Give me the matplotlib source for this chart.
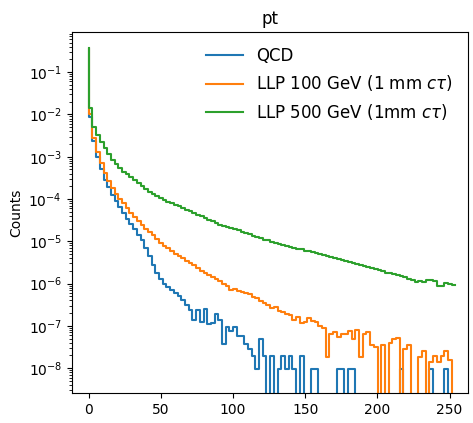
import numpy as np
import matplotlib
matplotlib.use('Agg')
import matplotlib.pyplot as plt

# bin layout
pt_lo = 0.0
pt_hi = 254.0
n_bins = 100

labels = ['QCD', r'LLP 100 GeV (1 mm $c\tau$)', r'LLP 500 GeV (1mm $c\tau$)']

# log10 of the bin contents, None = empty bin
qcd_log = [
    -0.45, -2.05, -2.62, -3.00, -3.28, -3.55, -3.72, -3.90, -4.05, -4.20,
    -4.33, -4.47, -4.60, -4.72, -4.85, -4.98, -5.15, -5.35, -5.55, -5.75,
    -5.90, -6.00, -6.08, -6.15, -6.22, -6.30, -6.38, -6.50, -6.62, -6.85,
    -6.62, -6.90, -6.60, -6.95, -6.92, -6.72, -6.85, -7.42, -7.02, -7.12,
    -7.02, -7.24, -7.24, -7.42, -7.54, -7.72, -8.02, -7.32, -7.72, None,
    -7.72, None, -8.02, -7.72, -8.02, -7.72, -8.02, None, -7.72, None,
    None, -8.02, -8.02, None, None, None, None, None, -8.02, -8.02,
    None, -8.02, -8.02, None, None, None, None, None, None, None,
    None, None, None, None, None, -8.02, None, None, None, None,
    None, None, None, -8.02, None, None, None, -8.02, None, None,
]
llp100_log = [
    -0.45, -2.00, -2.55, -2.90, -3.15, -3.38, -3.58, -3.75, -3.88, -4.00,
    -4.10, -4.22, -4.32, -4.43, -4.52, -4.62, -4.70, -4.78, -4.86, -4.95,
    -5.03, -5.10, -5.16, -5.22, -5.30, -5.35, -5.40, -5.46, -5.52, -5.57,
    -5.63, -5.70, -5.74, -5.80, -5.85, -5.90, -5.95, -6.01, -6.06, -6.15,
    -6.12, -6.18, -6.20, -6.22, -6.25, -6.32, -6.35, -6.40, -6.46, -6.50,
    -6.58, -6.55, -6.65, -6.67, -6.72, -6.74, -6.85, -6.78, -6.93, -6.90,
    -6.82, -6.88, -6.90, -7.00, -7.05, -7.74, -7.20, -7.15, -7.26, -7.18,
    -7.20, -7.12, -7.30, -7.10, -7.74, -7.20, -7.15, -7.45, -7.50, None,
    -7.45, None, -7.40, -7.30, -7.28, None, -7.55, -7.45, None, None,
    -7.74, -7.60, None, -7.85, -7.70, -7.85, -7.72, -7.60, -7.80, None,
]
llp500_log = [
    -0.43, -1.85, -2.30, -2.49, -2.66, -2.80, -2.93, -3.07, -3.18, -3.27,
    -3.35, -3.42, -3.49, -3.56, -3.63, -3.70, -3.77, -3.83, -3.88, -3.93,
    -3.98, -4.02, -4.06, -4.10, -4.14, -4.17, -4.21, -4.25, -4.29, -4.32,
    -4.37, -4.40, -4.45, -4.49, -4.53, -4.56, -4.61, -4.63, -4.67, -4.69,
    -4.72, -4.74, -4.77, -4.80, -4.83, -4.87, -4.89, -4.92, -4.96, -4.98,
    -5.02, -5.04, -5.07, -5.09, -5.11, -5.13, -5.15, -5.17, -5.19, -5.22,
    -5.24, -5.25, -5.28, -5.30, -5.32, -5.35, -5.37, -5.40, -5.42, -5.44,
    -5.47, -5.50, -5.52, -5.53, -5.56, -5.59, -5.60, -5.63, -5.66, -5.68,
    -5.70, -5.74, -5.76, -5.77, -5.80, -5.83, -5.85, -5.89, -5.91, -5.97,
    -5.95, -5.96, -5.91, -5.91, -5.93, -6.05, -6.05, -5.98, -6.01, -6.03,
]

colors = ['#1f77b4', '#ff7f0e', '#2ca02c']


def to_counts(logs):
    return np.array([0.0 if v is None else 10.0 ** v for v in logs])


fig = plt.figure(figsize=(4.73, 4.23), dpi=100)
ax = fig.add_axes([0.1516, 0.071, 0.8385, 0.853])

edges = np.linspace(pt_lo, pt_hi, n_bins)
for logs, label, color in zip([qcd_log, llp100_log, llp500_log], labels, colors):
    ax.step(edges, to_counts(logs), color=color, label=label, linewidth=1.5)

ax.set_yscale('log')
ax.set_xlim(-11.8, 263)
ax.set_ylim(2.6e-9, 0.88)
ax.set_title('pt', fontsize=12)
ax.set_ylabel('Counts', fontsize=10)
ax.tick_params(labelsize=10)
ax.legend(loc='upper right', fontsize=12, frameon=False, handlelength=2.2)

fig.savefig('out.png', dpi=100)
